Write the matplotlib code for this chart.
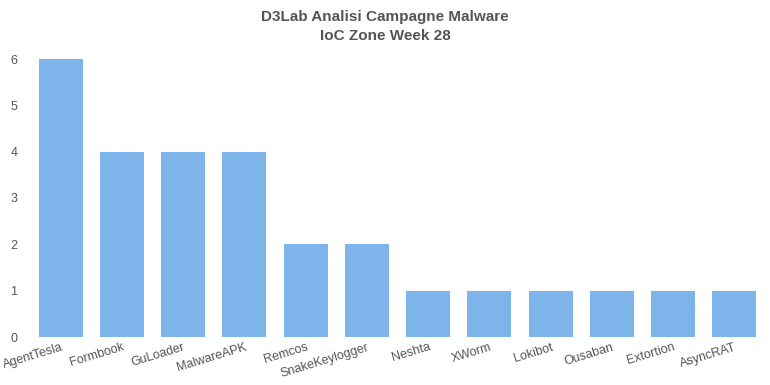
import matplotlib.pyplot as plt

# Data
categories = ["AgentTesla", "Formbook", "GuLoader", "MalwareAPK", "Remcos",
              "SnakeKeylogger", "Neshta", "XWorm", "Lokibot", "Ousaban",
              "Extortion", "AsyncRAT"]
counts = [6, 4, 4, 4, 2, 2, 1, 1, 1, 1, 1, 1]

BAR_COLOR = "#7db4ea"
TEXT_COLOR = "#555555"

plt.rcParams["font.family"] = ["Liberation Sans", "DejaVu Sans"]

fig = plt.figure(figsize=(7.7, 3.85), dpi=100)
ax = fig.add_axes([30 / 770, 1 - 337 / 385, 735 / 770, 278 / 385])

x = range(len(categories))
ax.bar(x, counts, width=0.72, color=BAR_COLOR)

ax.set_xlim(-0.5, len(categories) - 0.5)
ax.set_ylim(0, 6)
ax.set_yticks(range(0, 7))
ax.set_xticks(list(x))
ax.set_xticklabels(categories, rotation=17, ha="right", rotation_mode="anchor")
ax.tick_params(axis="both", length=0, labelsize=9, colors=TEXT_COLOR)
ax.tick_params(axis="y", pad=9)
ax.tick_params(axis="x", pad=3)
for spine in ax.spines.values():
    spine.set_visible(False)

fig.suptitle("D3Lab Analisi Campagne Malware\nIoC Zone Week 28",
             y=0.975, fontsize=11, fontweight="bold", color=TEXT_COLOR,
             linespacing=1.5)

fig.savefig("out.png", dpi=100)
